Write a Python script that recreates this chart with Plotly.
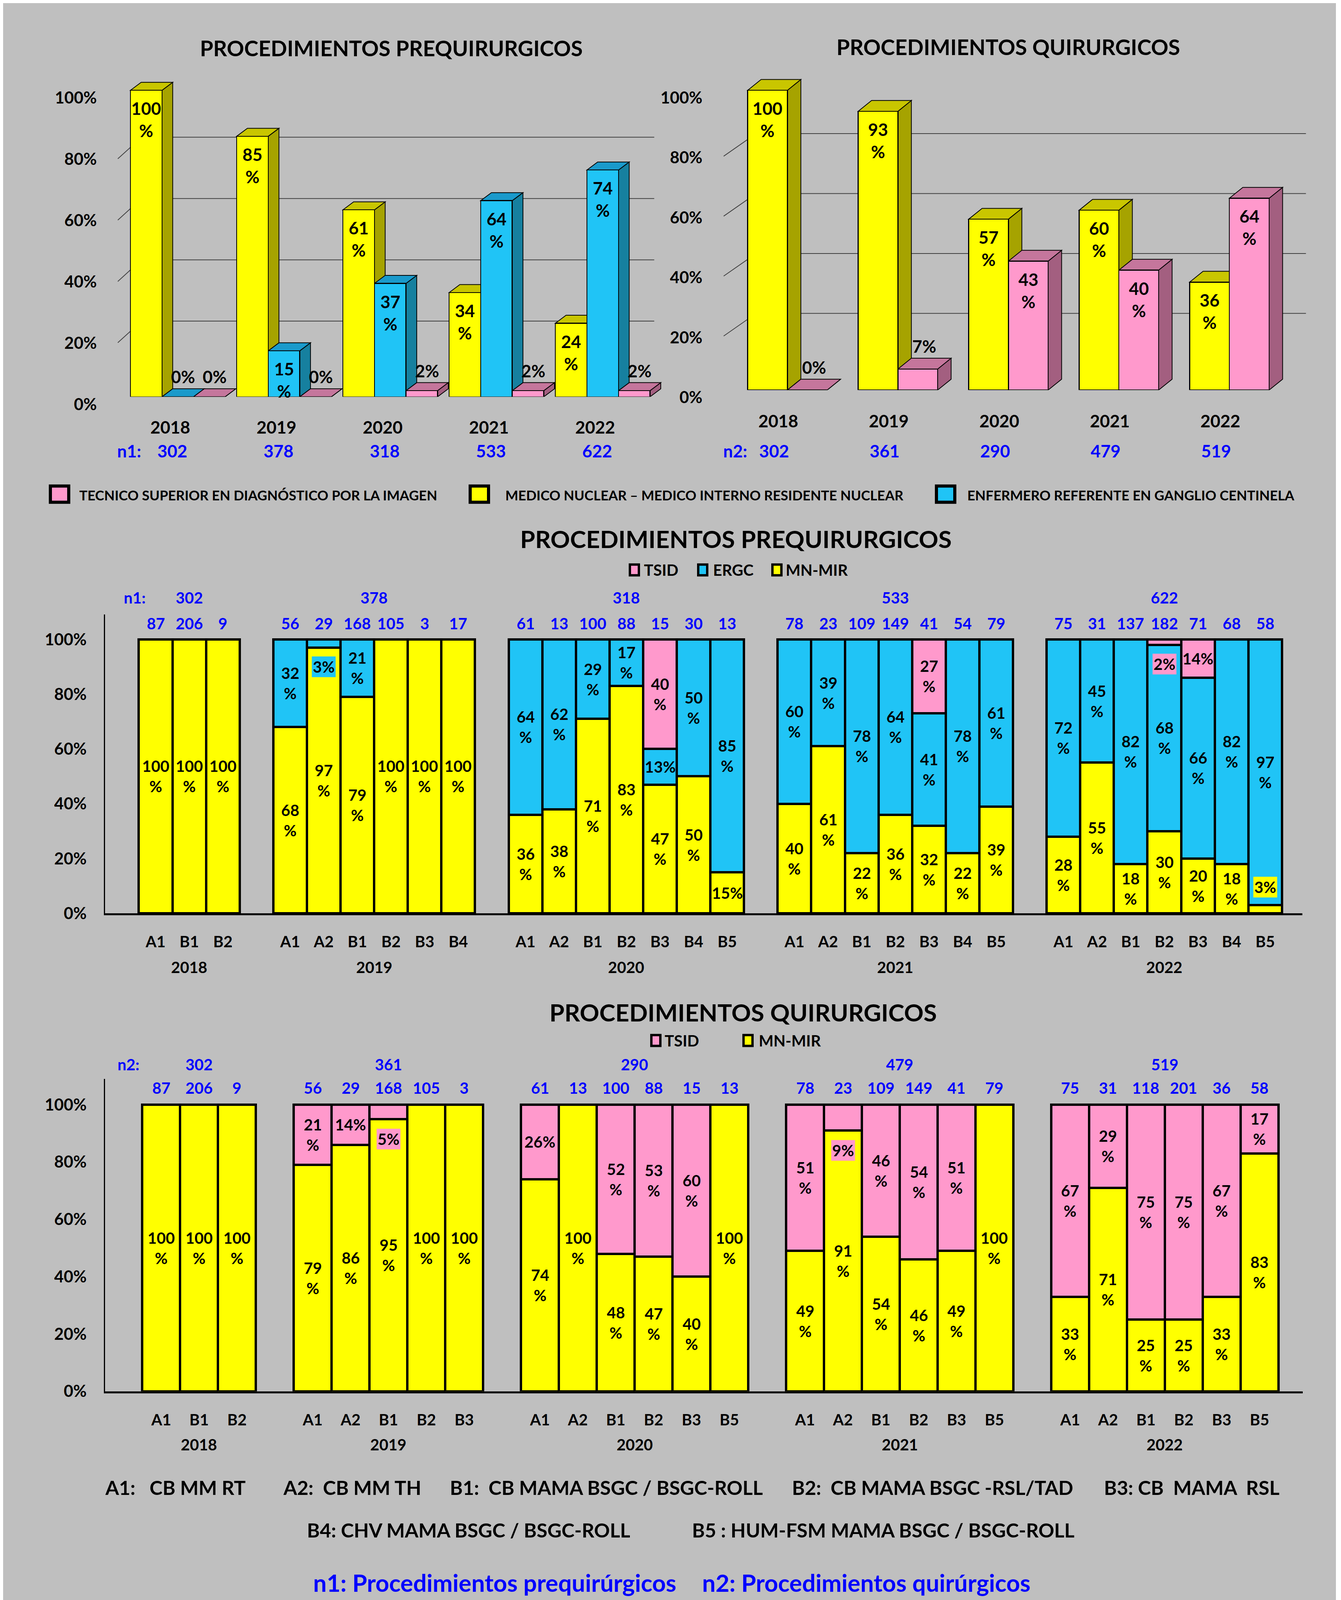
import plotly.graph_objects as go

# ======================= DATA =======================
YEARS = ["2018", "2019", "2020", "2021", "2022"]

# Top-left: PROCEDIMIENTOS PREQUIRURGICOS (% per professional)
PRE_MN = [100, 85, 61, 34, 24]
PRE_ERGC = [0, 15, 37, 64, 74]
PRE_TSID = [0, 0, 2, 2, 2]
N1 = [302, 378, 318, 533, 622]

# Top-right: PROCEDIMIENTOS QUIRURGICOS
QX_MN = [100, 93, 57, 60, 36]
QX_TSID = [0, 7, 43, 40, 64]
N2 = [302, 361, 290, 479, 519]

# Middle: prequirurgicos by procedure type
PRE_CATS = [["A1", "B1", "B2"],
            ["A1", "A2", "B1", "B2", "B3", "B4"],
            ["A1", "A2", "B1", "B2", "B3", "B4", "B5"],
            ["A1", "A2", "B1", "B2", "B3", "B4", "B5"],
            ["A1", "A2", "B1", "B2", "B3", "B4", "B5"]]
PRE_N = [[87, 206, 9],
         [56, 29, 168, 105, 3, 17],
         [61, 13, 100, 88, 15, 30, 13],
         [78, 23, 109, 149, 41, 54, 79],
         [75, 31, 137, 182, 71, 68, 58]]
PRE_CAT_MN = [[100, 100, 100],
              [68, 97, 79, 100, 100, 100],
              [36, 38, 71, 83, 47, 50, 15],
              [40, 61, 22, 36, 32, 22, 39],
              [28, 55, 18, 30, 20, 18, 3]]
PRE_CAT_ERGC = [[0, 0, 0],
                [32, 3, 21, 0, 0, 0],
                [64, 62, 29, 17, 13, 50, 85],
                [60, 39, 78, 64, 41, 78, 61],
                [72, 45, 82, 68, 66, 82, 97]]
PRE_CAT_TSID = [[0, 0, 0],
                [0, 0, 0, 0, 0, 0],
                [0, 0, 0, 0, 40, 0, 0],
                [0, 0, 0, 0, 27, 0, 0],
                [0, 0, 0, 2, 14, 0, 0]]

# Bottom: quirurgicos by procedure type
QX_CATS = [["A1", "B1", "B2"],
           ["A1", "A2", "B1", "B2", "B3"],
           ["A1", "A2", "B1", "B2", "B3", "B5"],
           ["A1", "A2", "B1", "B2", "B3", "B5"],
           ["A1", "A2", "B1", "B2", "B3", "B5"]]
QX_N = [[87, 206, 9],
        [56, 29, 168, 105, 3],
        [61, 13, 100, 88, 15, 13],
        [78, 23, 109, 149, 41, 79],
        [75, 31, 118, 201, 36, 58]]
QX_CAT_MN = [[100, 100, 100],
             [79, 86, 95, 100, 100],
             [74, 100, 48, 47, 40, 100],
             [49, 91, 54, 46, 49, 100],
             [33, 71, 25, 25, 33, 83]]
QX_CAT_TSID = [[0, 0, 0],
               [21, 14, 5, 0, 0],
               [26, 0, 52, 53, 60, 0],
               [51, 9, 46, 54, 51, 0],
               [67, 29, 75, 75, 67, 17]]

PCT_TICKS = [0, 20, 40, 60, 80, 100]

LEGEND_TOP = ["TECNICO SUPERIOR EN DIAGNÓSTICO POR LA IMAGEN",
              "MEDICO NUCLEAR – MEDICO INTERNO RESIDENTE NUCLEAR",
              "ENFERMERO REFERENTE EN GANGLIO CENTINELA"]
DEFS_1 = ["A1:\u00a0\u00a0 CB MM RT", "A2:\u00a0 CB MM TH", "B1:\u00a0 CB MAMA BSGC / BSGC-ROLL",
          "B2:\u00a0 CB MAMA BSGC -RSL/TAD", "B3: CB\u00a0 MAMA\u00a0 RSL"]
DEFS_2 = ["B4: CHV MAMA BSGC / BSGC-ROLL", "B5 : HUM-FSM MAMA BSGC / BSGC-ROLL"]
DEFS_3 = ["n1: Procedimientos prequirúrgicos", "n2: Procedimientos quirúrgicos"]

# ======================= STYLE =======================
W, H = 3413, 4204
S = 2.6935            # reference-preview px -> page px
BG = "#BFBFBF"
YEL, BLU, PNK = "#FFFF00", "#20C4F6", "#FF99CC"
FACES = {YEL: ("#C9C600", "#A6A300"), BLU: ("#1A9ACB", "#16809F"), PNK: ("#C5769C", "#A35F80")}
NBLUE = "#0000FF"
FONT = "Lato"


def X(d):
    return (d * S - 8) / W


def Y(d):
    return 1 - (d * S - 8) / H


def XF(f):
    return (f - 8) / W


def YF(f):
    return 1 - (f - 8) / H


def fnt(size, color="black"):
    return dict(family=FONT, size=size, color=color, weight="bold")


ann = []
shapes = []


def A(text, x, y, xref="paper", yref="paper", size=40, color="black",
      xanchor="center", yanchor="middle", **kw):
    ann.append(dict(text=text, x=x, y=y, xref=xref, yref=yref, showarrow=False,
                    font=fnt(size, color), xanchor=xanchor, yanchor=yanchor, **kw))


fig = go.Figure()


# ======================= 3D-LOOK TOP CHARTS =======================
def chart3d(xr, yr, series, w, dx, dy, grid_x, grid_off, diag, year_off, n_off, nvals, year_y, n_y):
    nser = len(series)
    # back-wall gridlines and left-wall diagonals
    for v in PCT_TICKS[1:-1]:
        shapes.append(dict(type="line", xref=xr, yref=yr, x0=grid_x[0], x1=grid_x[1],
                           y0=v + grid_off, y1=v + grid_off, layer="below",
                           line=dict(color="#404040", width=2)))
        shapes.append(dict(type="line", xref=xr, yref=yr, x0=diag[0], x1=diag[2],
                           y0=v + diag[1], y1=v + diag[3], layer="below",
                           line=dict(color="#404040", width=2)))
    for j, (vals, col) in enumerate(series):
        xs = [i + (j - (nser - 1) / 2) * w for i in range(len(vals))]
        fig.add_trace(go.Bar(x=xs, y=vals, width=w, xaxis=xr, yaxis=yr,
                             marker=dict(color=col, line=dict(color="black", width=2.5)),
                             showlegend=False, hoverinfo="skip"))
    for i in range(len(series[0][0])):
        for j, (vals, col) in enumerate(series):
            v = vals[i]
            xc = i + (j - (nser - 1) / 2) * w
            x0, x1 = xc - w / 2, xc + w / 2
            topc, sidec = FACES[col]
            shapes.append(dict(type="path", xref=xr, yref=yr, layer="below",
                               path=f"M {x1},0 L {x1},{v} L {x1+dx},{v+dy} L {x1+dx},{dy} Z",
                               fillcolor=sidec, line=dict(color="black", width=2)))
            shapes.append(dict(type="path", xref=xr, yref=yr, layer="below",
                               path=f"M {x0},{v} L {x0+dx},{v+dy} L {x1+dx},{v+dy} L {x1},{v} Z",
                               fillcolor=topc, line=dict(color="black", width=2)))
            if v >= 10:
                A(f"{v}<br>%", xc, v, xr, yr, size=44, yanchor="top", yshift=-18)
            else:
                A(f"{v}%", xc + dx / 2, v + dy, xr, yr, size=44, yshift=31)
    for i, yr_lab in enumerate(YEARS):
        A(yr_lab, i + year_off, Y(year_y), xr, "paper", size=44)
        A(str(nvals[i]), i + n_off, Y(n_y), xr, "paper", size=44, color=NBLUE)


# top-left
chart3d("x", "y", [(PRE_MN, YEL), (PRE_ERGC, BLU), (PRE_TSID, PNK)],
        w=30 / 101, dx=10.2 / 101, dy=7.7 / 2.943,
        grid_x=((135 - 169) / 101, (622 - 169) / 101), grid_off=13.8 / 2.943,
        diag=((112 - 169) / 101, -2.35, (124 - 169) / 101, 1.4),
        year_off=-0.072, n_off=-0.05, nvals=N1, year_y=410, n_y=433)
A("n1:", X(123), Y(433), size=44, color=NBLUE)
# top-right
chart3d("x2", "y2", [(QX_MN, YEL), (QX_TSID, PNK)],
        w=37.8 / 105.05, dx=12.8 / 105.05, dy=10.4 / 2.878,
        grid_x=((724 - 748.6) / 105.05, (1241.6 - 748.6) / 105.05), grid_off=16 / 2.878,
        diag=((688 - 748.6) / 105.05, -1.98, (711 - 748.6) / 105.05, 3.65),
        year_off=-0.083, n_off=-0.12, nvals=N2, year_y=404, n_y=433)
A("n2:", X(699), Y(433), size=44, color=NBLUE)

A("PROCEDIMIENTOS PREQUIRURGICOS", XF(1002), YF(124), size=55)
A("PROCEDIMIENTOS QUIRURGICOS", XF(2582), YF(121), size=55)

# top legend
for (bx, tx), col, txt in zip([(125, 201), (1200, 1292), (2394, 2475)], [PNK, YEL, BLU], LEGEND_TOP):
    shapes.append(dict(type="rect", xref="paper", yref="paper", x0=XF(bx + 4), x1=XF(bx + 51),
                       y0=YF(1299), y1=YF(1257), fillcolor=col, line=dict(color="black", width=8)))
    A(txt, XF(tx), YF(1280), size=35, xanchor="left")


# ======================= STACKED CHARTS =======================
def slot_groups(cats):
    k, out = 1, []
    for g in cats:
        out.append(list(range(k, k + len(g))))
        k += len(g) + 1
    return out


def stacked(xr, yr, cats, nvals, series, single, n_y, tot_y, year_y, totals):
    slots = slot_groups(cats)
    flat = [k for g in slots for k in g]
    for vals, col in series:
        fig.add_trace(go.Bar(x=flat, y=[v for g in vals for v in g], width=1.0, xaxis=xr, yaxis=yr,
                             marker=dict(color=col, line=dict(color="black", width=6)),
                             showlegend=False, hoverinfo="skip"))
    for gi, grp in enumerate(slots):
        for bi, k in enumerate(grp):
            lo = 0
            for vals, col in series:
                v = vals[gi][bi]
                hi = lo + v
                if v > 0:
                    if v < 10:
                        yy = lo - 7 if lo > 0 else hi + 6.5
                        A(f"{v}%", k, yy, xr, yr, size=40, bgcolor=col, borderpad=2)
                    elif v <= 15 or (YEARS[gi], cats[gi][bi], col) in single:
                        A(f"{v}%", k, (lo + hi) / 2, xr, yr, size=40)
                    else:
                        A(f"{v}<br>%", k, (lo + hi) / 2, xr, yr, size=40)
                lo = hi
            A(str(nvals[gi][bi]), k, Y(n_y), xr, "paper", size=40, color=NBLUE)
        mid = sum(grp) / len(grp)
        A(YEARS[gi], mid, Y(year_y), xr, "paper", size=40)
        A(str(totals[gi]), mid, Y(tot_y), xr, "paper", size=40, color=NBLUE)
    return flat, [c for g in cats for c in g]


mid_vals, mid_text = stacked("x3", "y3", PRE_CATS, PRE_N,
                             [(PRE_CAT_MN, YEL), (PRE_CAT_ERGC, BLU), (PRE_CAT_TSID, PNK)],
                             set(), n_y=598.7, tot_y=573.8, year_y=928.6, totals=N1)
A("n1:", X(128), Y(573.8), size=40, color=NBLUE)
A("PROCEDIMIENTOS PREQUIRURGICOS", XF(1885), YF(1393), size=62)
for (bx, tx), col, txt in zip([(1610, 1647), (1785, 1824), (1975, 2010)], [PNK, BLU, YEL],
                              ["TSID", "ERGC", "MN-MIR"]):
    shapes.append(dict(type="rect", xref="paper", yref="paper", x0=XF(bx + 3), x1=XF(bx + 26),
                       y0=YF(1488), y1=YF(1460), fillcolor=col, line=dict(color="black", width=6)))
    A(txt, XF(tx), YF(1474), size=40, xanchor="left")

bot_vals, bot_text = stacked("x4", "y4", QX_CATS, QX_N,
                             [(QX_CAT_MN, YEL), (QX_CAT_TSID, PNK)],
                             {("2020", "A1", PNK)}, n_y=1044.6, tot_y=1022, year_y=1387, totals=N2)
A("n2:", X(122), Y(1022), size=40, color=NBLUE)
A("PROCEDIMIENTOS QUIRURGICOS", XF(1903), YF(2618), size=62)
for (bx, tx), col, txt in zip([(1665, 1700), (1901, 1941)], [PNK, YEL], ["TSID", "MN-MIR"]):
    shapes.append(dict(type="rect", xref="paper", yref="paper", x0=XF(bx + 3), x1=XF(bx + 26),
                       y0=YF(2705), y1=YF(2677), fillcolor=col, line=dict(color="black", width=6)))
    A(txt, XF(tx), YF(2691), size=40, xanchor="left")

# definitions
for txt, x in zip(DEFS_1, [267, 723, 1150, 2026, 2825]):
    A(txt, XF(x), YF(3847), size=50, xanchor="left")
for txt, x in zip(DEFS_2, [784, 1770]):
    A(txt, XF(x), YF(3957), size=50, xanchor="left")
for txt, x in zip(DEFS_3, [800, 1796]):
    A(txt, XF(x), YF(4093), size=61, color=NBLUE, xanchor="left")

# ======================= AXES =======================
hidden_x = dict(showticklabels=False, showgrid=False, zeroline=False, showline=False, ticks="")
pct_y = dict(tickvals=PCT_TICKS, ticktext=[f"{v}%" for v in PCT_TICKS], tickfont=fnt(42),
             showgrid=False, zeroline=False, ticks="outside", tickcolor="rgba(0,0,0,0)")

fig.update_layout(
    width=W, height=H, margin=dict(l=0, r=0, t=0, b=0),
    paper_bgcolor=BG, plot_bgcolor="rgba(0,0,0,0)", barmode="stack", showlegend=False,
    font=dict(family=FONT),
    xaxis=dict(domain=[X(100), X(630)], range=[(100 - 169) / 101, (630 - 169) / 101], **hidden_x),
    yaxis=dict(domain=[Y(381), Y(60)], range=[0, (381 - 60) / 2.943], anchor="x",
               ticklen=12, ticklabelshift=19, **pct_y),
    xaxis2=dict(domain=[X(675), X(1245)], range=[(675 - 748.6) / 105.05, (1245 - 748.6) / 105.05],
                anchor="y2", **hidden_x),
    yaxis2=dict(domain=[Y(374.5), Y(60)], range=[0, (374.5 - 60) / 2.878], anchor="x2",
                ticklen=10, ticklabelshift=19, **pct_y),
    xaxis3=dict(domain=[X(100), X(1238)], range=[-0.5, 35.1], anchor="y3",
                tickvals=mid_vals, ticktext=mid_text, tickfont=fnt(40), ticks="outside",
                ticklen=34, tickcolor="rgba(0,0,0,0)", showgrid=False, zeroline=False,
                showline=True, linecolor="black", linewidth=5),
    yaxis3=dict(domain=[Y(877), Y(590)], range=[0, 109.1], anchor="x3", ticklen=36,
                showline=True, linecolor="black", linewidth=3, **pct_y),
    xaxis4=dict(domain=[X(100), X(1238.5)], range=[-0.48, 31.14], anchor="y4",
                tickvals=bot_vals, ticktext=bot_text, tickfont=fnt(40), ticks="outside",
                ticklen=34, tickcolor="rgba(0,0,0,0)", showgrid=False, zeroline=False,
                showline=True, linecolor="black", linewidth=5),
    yaxis4=dict(domain=[Y(1336), Y(1036)], range=[0, 109], anchor="x4", ticklen=36,
                showline=True, linecolor="black", linewidth=3, **pct_y),
    annotations=ann,
    shapes=shapes,
)

fig.write_html("out.html")
